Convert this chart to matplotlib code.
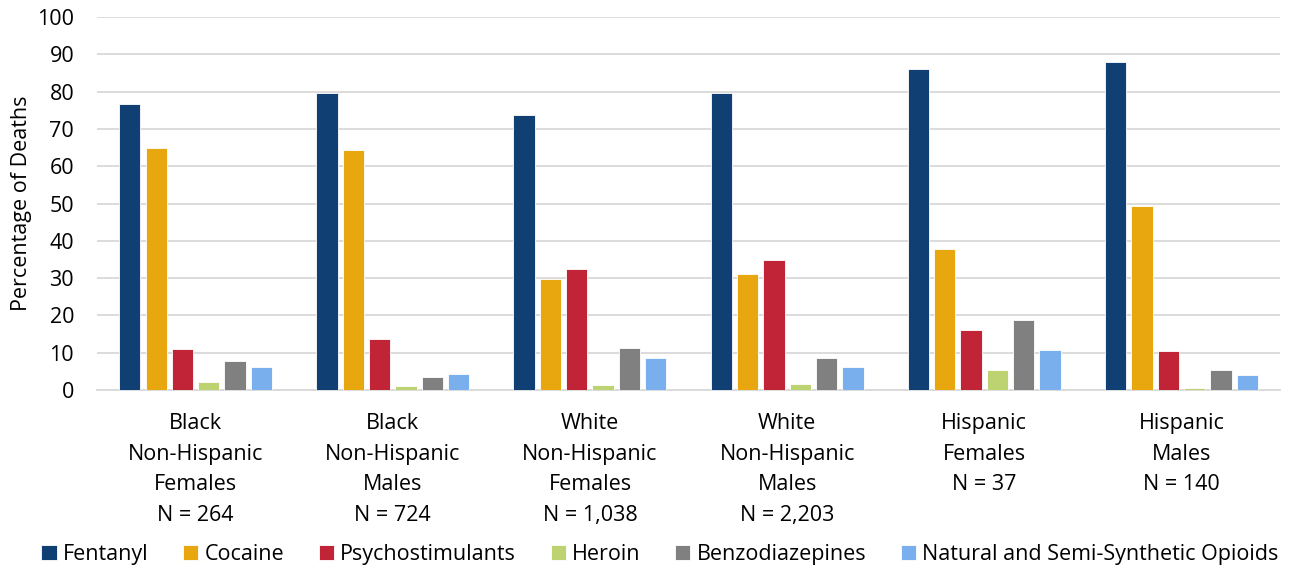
import matplotlib
matplotlib.use("Agg")
import matplotlib.pyplot as plt
import numpy as np

plt.rcParams['font.family'] = ['Open Sans', 'DejaVu Sans']

categories = [
    "Black\nNon-Hispanic\nFemales\nN = 264",
    "Black\nNon-Hispanic\nMales\nN = 724",
    "White\nNon-Hispanic\nFemales\nN = 1,038",
    "White\nNon-Hispanic\nMales\nN = 2,203",
    "Hispanic\nFemales\nN = 37",
    "Hispanic\nMales\nN = 140",
]
series_names = ["Fentanyl", "Cocaine", "Psychostimulants", "Heroin",
                "Benzodiazepines", "Natural and Semi-Synthetic Opioids"]
fentanyl = [76.6, 79.5, 73.7, 79.5, 86.0, 88.0]
cocaine = [64.8, 64.3, 29.7, 31.2, 37.7, 49.3]
psychostimulants = [10.9, 13.6, 32.5, 34.8, 16.1, 10.5]
heroin = [2.2, 1.1, 1.3, 1.6, 5.3, 0.5]
benzodiazepines = [7.8, 3.5, 11.3, 8.6, 18.9, 5.5]
natural_opioids = [6.2, 4.2, 8.7, 6.2, 10.7, 4.1]
colors = ["#103F73", "#E9A70F", "#C22437", "#BDD271", "#808080", "#79AFEC"]

all_series = [fentanyl, cocaine, psychostimulants, heroin, benzodiazepines, natural_opioids]

fig = plt.figure(figsize=(12.89, 5.67), dpi=100)
ax = fig.add_axes([0.0753, 0.312, 0.9177, 0.658])

x = np.arange(len(categories))
step = 0.1335
width = 0.108
n = len(all_series)
for i, (vals, name, c) in enumerate(zip(all_series, series_names, colors)):
    offs = (i - (n - 1) / 2) * step
    ax.bar(x + offs, vals, width=width, color=c, label=name,
           edgecolor="white", linewidth=0.6, zorder=3)

FS = 15.5
ax.set_xlim(-0.5, len(categories) - 0.5)
ax.set_ylim(0, 100)
ax.set_yticks(np.arange(0, 101, 10))
ax.yaxis.grid(True, color="#d9d9d9", linewidth=1.3, zorder=0)
ax.set_axisbelow(True)
for s in ["top", "right", "left"]:
    ax.spines[s].set_visible(False)
ax.spines["bottom"].set_color("#d9d9d9")
ax.spines["bottom"].set_linewidth(1.3)
ax.tick_params(axis="y", length=0, labelsize=FS, pad=16.5, colors="black")
ax.tick_params(axis="x", length=0, labelsize=FS, pad=16.5)
ax.set_xticks(x)
ax.set_xticklabels(categories, linespacing=1.6)
ax.set_ylabel("Percentage of Deaths", fontsize=FS, labelpad=4)

fig.legend(loc="lower center", ncol=6, frameon=False, fontsize=FS,
           bbox_to_anchor=(0.512, -0.031), handlelength=0.7, handleheight=0.7,
           handletextpad=0.3, columnspacing=1.6)

fig.savefig("out.png", dpi=100)
